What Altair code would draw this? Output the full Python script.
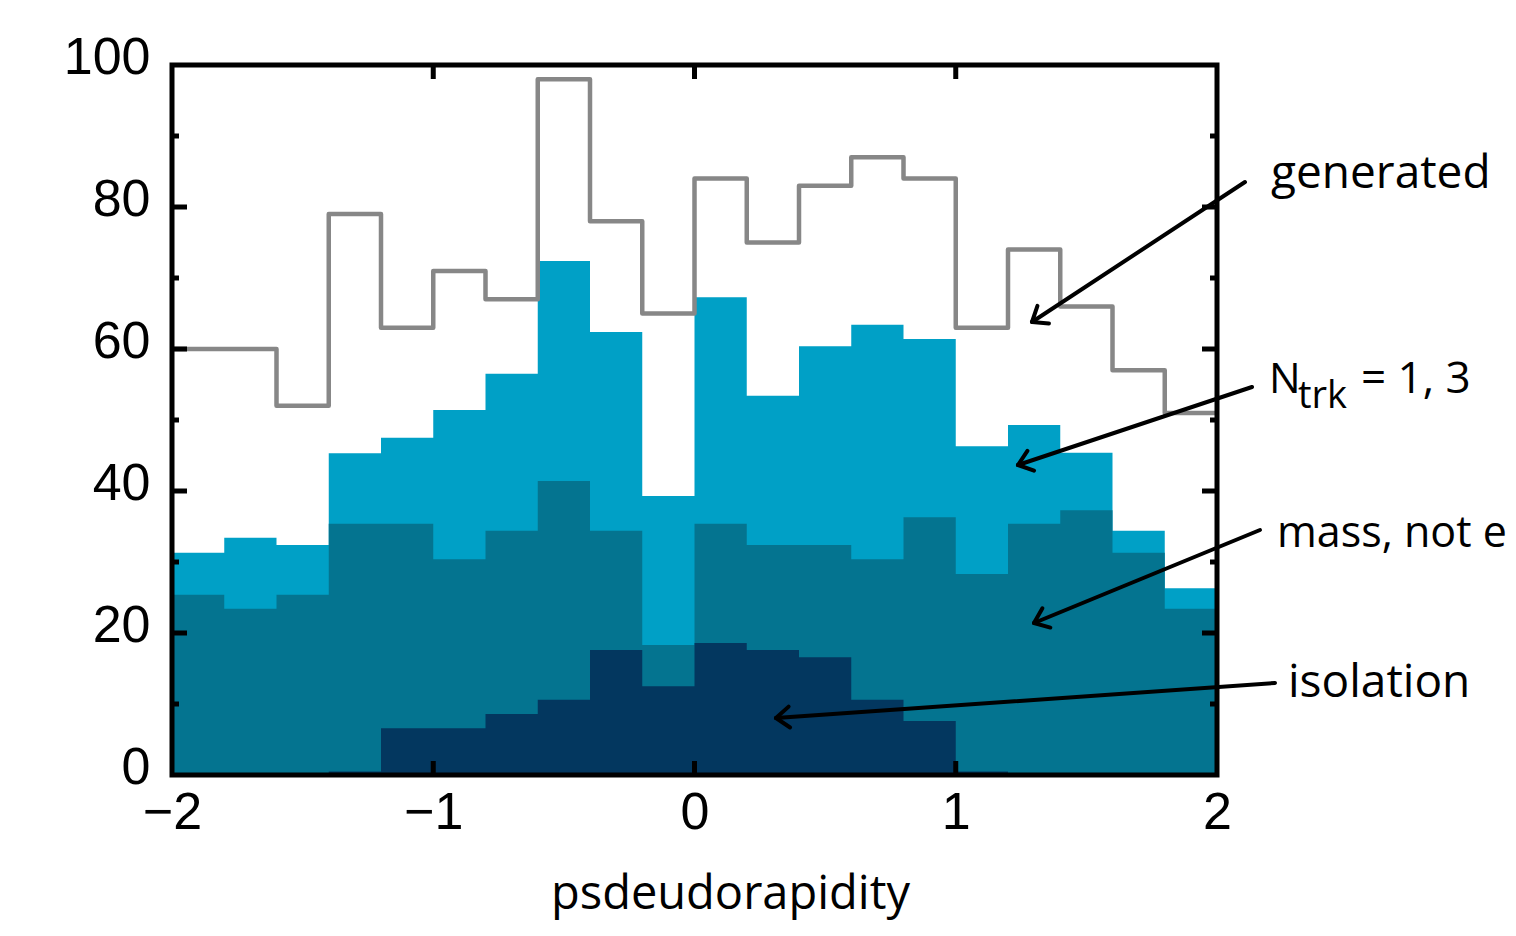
import math
import altair as alt
import pandas as pd

# ---------------- data ----------------
bin_start = [-2.0, -1.8, -1.6, -1.4, -1.2, -1.0, -0.8, -0.6, -0.4, -0.2,
             0.0, 0.2, 0.4, 0.6, 0.8, 1.0, 1.2, 1.4, 1.6, 1.8]
x_end = 2.0

generated = [60, 60, 52, 79, 63, 71, 67, 98, 78, 65,
             84, 75, 83, 87, 84, 63, 74, 66, 57, 51]
ntrk = [31.3, 33.4, 32.4, 45.3, 47.5, 51.4, 56.5, 72.4, 62.4, 39.3,
        67.3, 53.4, 60.4, 63.4, 61.4, 46.3, 49.3, 45.4, 34.4, 26.3]
mass = [25.4, 23.4, 25.4, 35.4, 35.4, 30.4, 34.4, 41.4, 34.4, 18.3,
        35.4, 32.4, 32.4, 30.4, 36.3, 28.3, 35.4, 37.3, 31.3, 23.4]
isolation = [0, 0, 0, 0.5, 6.6, 6.6, 8.6, 10.6, 17.6, 12.5,
             18.6, 17.6, 16.6, 10.6, 7.6, 0.5, 0, 0, 0, 0]

y_labels = [0, 20, 40, 60, 80, 100]
y_major_ticks = [20, 40, 60, 80]
y_minor_ticks = [10, 30, 50, 70, 90]
x_labels = [-2, -1, 0, 1, 2]
x_inner_ticks = [-1, 0, 1]

# ---------------- layout ----------------
W, H = 1045, 710
PAD = {"left": 164, "top": 57, "right": 291, "bottom": 153}

C_NTRK = "#00A0C6"
C_MASS = "#047490"
C_ISO = "#03375F"
C_GEN = "#878787"

xscale = alt.Scale(domain=[-2, 2], nice=False, zero=False)
yscale = alt.Scale(domain=[0, 100], nice=False, zero=False)


def step_df(vals):
    return pd.DataFrame({"x": bin_start + [x_end], "v": list(vals) + [vals[-1]]})


x_axis = alt.Axis(values=x_labels, ticks=False, domain=False, grid=False,
                  labelFont="Liberation Sans", labelFontSize=52, labelColor="black",
                  labelPadding=12, labelFlush=False, labelOverlap=False,
                  title="psdeudorapidity", titleFont="Open Sans", titleFontSize=47,
                  titleFontWeight="normal", titleColor="black",
                  titleX=558, titleY=133, titleBaseline="alphabetic", titleAlign="center")
y_axis = alt.Axis(values=y_labels, ticks=False, domain=False, grid=False,
                  labelFont="Liberation Sans", labelFontSize=52, labelColor="black",
                  labelPadding=22, labelFlush=False, labelOverlap=False,
                  labelBaseline="middle", labelOffset=-8, title=None)

layers = []

first = True
for vals, col in [(ntrk, C_NTRK), (mass, C_MASS), (isolation, C_ISO)]:
    layers.append(
        alt.Chart(step_df(vals)).mark_area(interpolate="step-after", color=col, opacity=1)
        .encode(x=alt.X("x:Q", scale=xscale, axis=x_axis if first else None),
                y=alt.Y("v:Q", scale=yscale, axis=y_axis if first else None))
    )
    first = False

layers.append(
    alt.Chart(step_df(generated)).mark_line(interpolate="step-after", color=C_GEN,
                                            strokeWidth=4.5, strokeJoin="round")
    .encode(x=alt.X("x:Q", scale=xscale, axis=None),
            y=alt.Y("v:Q", scale=yscale, axis=None))
)

# inward ticks
def yticks(vals, length, side):
    df = pd.DataFrame({"v": vals})
    if side == "left":
        xa, xb = 0, length
    else:
        xa, xb = W - length, W
    return alt.Chart(df).mark_rule(color="black", strokeWidth=5).encode(
        y=alt.Y("v:Q", scale=yscale, axis=None), x=alt.value(xa), x2=alt.value(xb))


def xticks(vals, length, side):
    df = pd.DataFrame({"x": vals})
    if side == "bottom":
        ya, yb = H - length, H
    else:
        ya, yb = 0, length
    return alt.Chart(df).mark_rule(color="black", strokeWidth=5).encode(
        x=alt.X("x:Q", scale=xscale, axis=None), y=alt.value(ya), y2=alt.value(yb))


for side in ["left", "right"]:
    layers.append(yticks(y_major_ticks, 15, side))
    layers.append(yticks(y_minor_ticks, 7, side))
for side in ["bottom", "top"]:
    layers.append(xticks(x_inner_ticks, 14, side))

# frame
layers.append(
    alt.Chart(alt.Data(values=[{"f": 1}])).mark_rect(fillOpacity=0, stroke="black", strokeWidth=5)
    .encode(x=alt.value(0), x2=alt.value(W), y=alt.value(0), y2=alt.value(H))
)

# arrows (plot-area pixel coordinates)
arrows = [
    (1073, 117, 860, 257),
    (1080, 322, 846, 400),
    (1088, 465, 862, 558),
    (1103, 618, 604, 653),
]
segs = []
L, D = 17, math.radians(38)
for (xs, ys, xt, yt) in arrows:
    segs.append({"x": xs, "y": ys, "x2": xt, "y2": yt})
    a = math.atan2(ys - yt, xs - xt)
    for s in (-1, 1):
        segs.append({"x": xt, "y": yt,
                     "x2": xt + L * math.cos(a + s * D), "y2": yt + L * math.sin(a + s * D)})
seg_df = pd.DataFrame(segs)
layers.append(
    alt.Chart(seg_df).mark_rule(color="black", strokeWidth=4, strokeCap="round")
    .encode(x=alt.X("x:Q", scale=None, axis=None), y=alt.Y("y:Q", scale=None, axis=None),
            x2="x2:Q", y2="y2:Q")
)

# annotation texts
texts = pd.DataFrame([
    {"x": 1099, "y": 123, "t": "generated", "s": 46},
    {"x": 1097, "y": 328, "t": "N", "s": 42},
    {"x": 1126, "y": 343, "t": "trk", "s": 38},
    {"x": 1189, "y": 328, "t": "= 1, 3", "s": 44},
    {"x": 1105, "y": 482, "t": "mass, not e", "s": 43},
    {"x": 1116, "y": 632, "t": "isolation", "s": 46},
])
layers.append(
    alt.Chart(texts).mark_text(align="left", baseline="alphabetic", font="Open Sans", color="black")
    .encode(x=alt.X("x:Q", scale=None, axis=None), y=alt.Y("y:Q", scale=None, axis=None),
            text="t:N", size=alt.Size("s:Q", scale=None, legend=None))
)

chart = alt.layer(*layers).resolve_axis(x="independent", y="independent").properties(
    width=W, height=H, padding=PAD,
    autosize=alt.AutoSizeParams(type="none"),
    background="white",
).configure_view(stroke=None)

chart.save("out.html", embed_options={"renderer": "svg", "actions": False})
